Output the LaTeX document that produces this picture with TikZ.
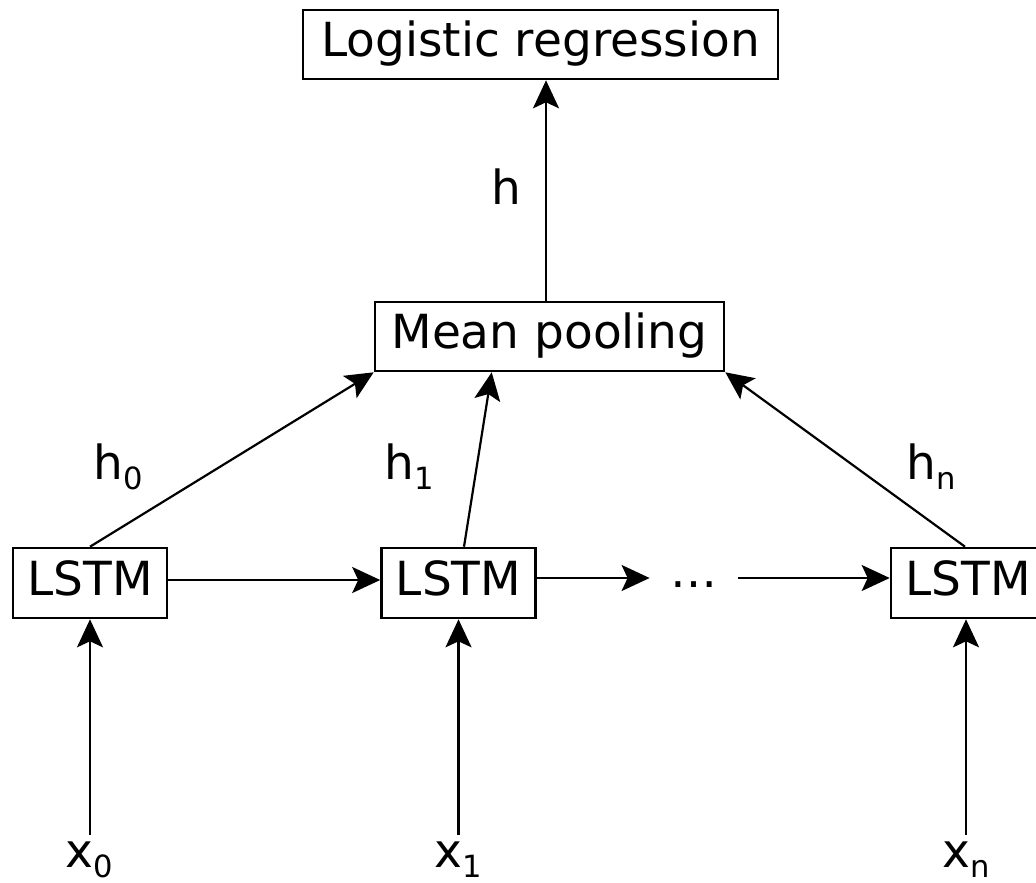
\documentclass[tikz,border=0pt]{standalone}
\usepackage{fontspec}
\setmainfont{DejaVu Sans}
\usetikzlibrary{arrows.meta,calc}
\newcommand\lowsub[1]{\raisebox{-5pt}{\fontsize{15.3}{16}\selectfont #1}}
\begin{document}
\begin{tikzpicture}[x=0.5pt,y=-0.5pt,
  font=\fontsize{23.5}{28}\selectfont,
  box/.style={draw=black,line width=1.3pt,inner sep=0pt,text height=17.9pt,text depth=5.6pt},
  lbl/.style={inner sep=3pt,anchor=base},
  arr/.style={line width=1.1pt,-{Stealth[length=14pt,width=13pt,inset=3pt]}}]
\useasboundingbox (0,0) rectangle (1036,882);
\clip (0,0) rectangle (1036,882);
% boxes
\node[box,minimum width=237.5pt,minimum height=34.5pt] (lr) at (540.5,44.5) {Logistic regression};
\node[box,minimum width=174.5pt,minimum height=34.5pt] (mp) at (549.5,336.5) {Mean pooling};
\node[box,minimum width=77pt,minimum height=35pt] (l0) at (90,583) {LSTM};
\node[box,minimum width=77pt,minimum height=35pt] (l1) at (458.5,583) {LSTM};
\node[box,minimum width=77pt,minimum height=35pt] (l2) at (968,583) {LSTM};
\node[inner sep=0pt,minimum width=44pt,text height=0pt,text depth=0pt] (dots) at (694,578) {\raisebox{-4.5pt}{…}};
% labels
\node[lbl] (h) at (506,205) {h};
\node[lbl] (h0) at (118,479) {h\lowsub{0}};
\node[lbl] (h1) at (409,479) {h\lowsub{1}};
\node[lbl] (hn) at (931,479) {h\lowsub{n}};
\node[lbl] (x0) at (89.5,867) {x\lowsub{0}};
\node[lbl] (x1) at (458,867) {x\lowsub{1}};
\node[lbl] (xn) at (966,867) {x\lowsub{n}};
% connectors
\draw[arr] (mp.north -| 546,0) -- (lr.south -| 546,0);
\draw[arr] (l0.north) -- (mp.south west);
\draw[arr] ($(l1.north)+(5.5,0)$) -- ($(mp.south west)+(118,0)$);
\draw[arr] ($(l2.north)+(-3,0)$) -- (mp.south east);
\draw[arr] ($(l0.east)+(0,-3)$) -- ($(l1.west)+(0,-3)$);
\draw[arr] ($(l1.east)+(0,-5)$) -- (dots.west);
\draw[arr] (dots.east) -- ($(l2.west)+(0,-5)$);
\draw[arr] (x0.north -| 90,0) -- (l0.south -| 90,0);
\draw[arr] (x1.north -| 458.5,0) -- (l1.south -| 458.5,0);
\draw[arr] (xn.north -| 966,0) -- (l2.south -| 966,0);
\end{tikzpicture}
\end{document}
